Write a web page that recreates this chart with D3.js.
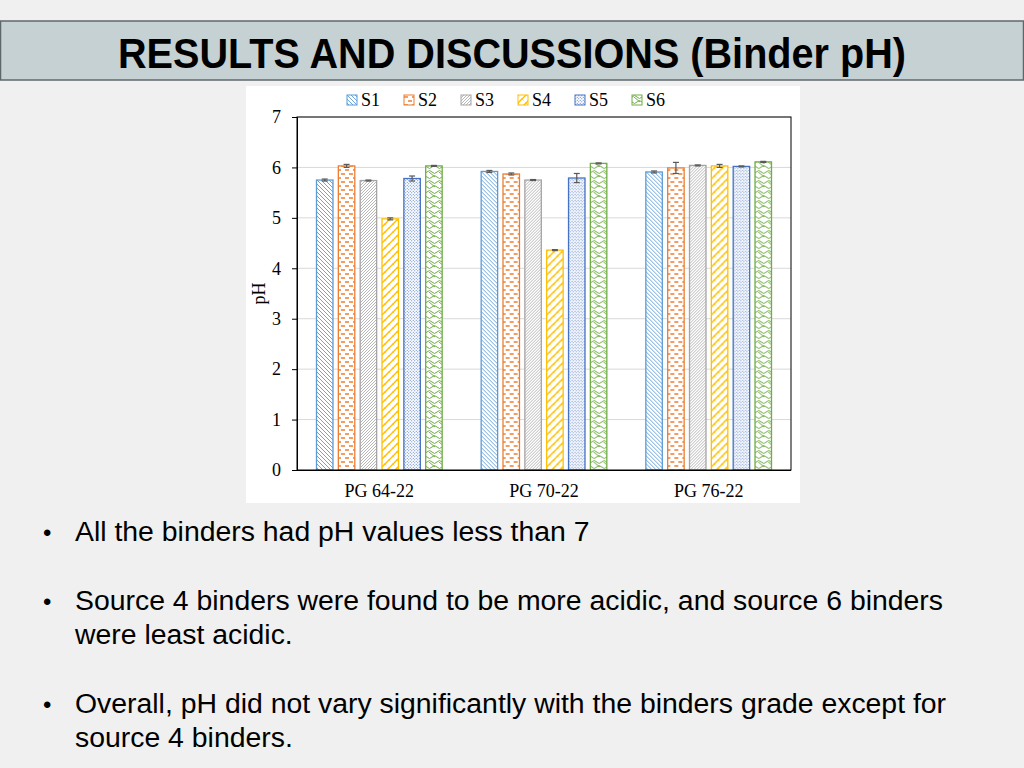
<!DOCTYPE html>
<html>
<head>
<meta charset="utf-8">
<script src="https://cdn.jsdelivr.net/npm/d3@7"></script>
<style>
  html, body { margin: 0; padding: 0; background: #f0f0f0; }
  svg { display: block; }
</style>
</head>
<body>
<svg id="slide" width="1024" height="768"></svg>
<script>
// chart data
const categories = ['PG 64-22', 'PG 70-22', 'PG 76-22'];
const seriesNames = ['S1', 'S2', 'S3', 'S4', 'S5', 'S6'];
const s1 = [5.75, 5.92, 5.91];
const s2 = [6.03, 5.87, 5.99];
const s3 = [5.74, 5.75, 6.04];
const s4 = [4.98, 4.36, 6.03];
const s5 = [5.78, 5.79, 6.02];
const s6 = [6.03, 6.08, 6.11];
const err1 = [0.02, 0.02, 0.02];
const err2 = [0.03, 0.02, 0.11];
const err3 = [0.01, 0.01, 0.01];
const err4 = [0.02, 0.01, 0.03];
const err5 = [0.05, 0.09, 0.01];
const err6 = [0.01, 0.01, 0.01];
const yTicks = [0, 1, 2, 3, 4, 5, 6, 7];
const bullets = [
    ['All the binders had pH values less than 7'],
    ['Source 4 binders were found to be more acidic, and source 6 binders', 'were least acidic.'],
    ['Overall, pH did not vary significantly with the binders grade except for', 'source 4 binders.']
];

const values = [s1, s2, s3, s4, s5, s6];
const errors = [err1, err2, err3, err4, err5, err6];
const colors = ['#5b9bd5', '#ed7d31', '#a5a5a5', '#ffc000', '#4472c4', '#70ad47'];

const svg = d3.select('#slide');
const defs = svg.append('defs');

// hatch patterns, one per series
function makePattern(i) {
    const c = colors[i];
    const id = 'pat' + i;
    let p;
    if (i === 0) {
        p = defs.append('pattern').attr('id', id).attr('patternUnits', 'userSpaceOnUse')
            .attr('width', 4).attr('height', 4);
        p.append('rect').attr('width', 4).attr('height', 4).attr('fill', '#fff');
        p.append('path').attr('d', 'M-1,-1 L5,5 M-1,3 L1,5 M3,-1 L5,1')
            .attr('stroke', c).attr('stroke-width', 0.9);
    } else if (i === 1) {
        p = defs.append('pattern').attr('id', id).attr('patternUnits', 'userSpaceOnUse')
            .attr('width', 8).attr('height', 8);
        p.append('rect').attr('width', 8).attr('height', 8).attr('fill', '#fff');
        p.append('path').attr('d', 'M0,2 H4 M4,6 H8')
            .attr('stroke', c).attr('stroke-width', 1.3);
    } else if (i === 2) {
        p = defs.append('pattern').attr('id', id).attr('patternUnits', 'userSpaceOnUse')
            .attr('width', 3).attr('height', 3);
        p.append('rect').attr('width', 3).attr('height', 3).attr('fill', '#fff');
        p.append('path').attr('d', 'M-1,4 L4,-1 M-1,1 L1,-1 M2,4 L4,2')
            .attr('stroke', c).attr('stroke-width', 0.8);
    } else if (i === 3) {
        p = defs.append('pattern').attr('id', id).attr('patternUnits', 'userSpaceOnUse')
            .attr('width', 8).attr('height', 8);
        p.append('rect').attr('width', 8).attr('height', 8).attr('fill', '#fff');
        p.append('path').attr('d', 'M-1,9 L9,-1 M-1,1 L1,-1 M7,9 L9,7')
            .attr('stroke', c).attr('stroke-width', 1.4);
        p.append('path').attr('d', 'M0,0 L4,4 M4,4 L8,8')
            .attr('stroke', c).attr('stroke-width', 0.7).attr('stroke-dasharray', '2,3');
    } else if (i === 4) {
        p = defs.append('pattern').attr('id', id).attr('patternUnits', 'userSpaceOnUse')
            .attr('width', 3).attr('height', 3);
        p.append('rect').attr('width', 3).attr('height', 3).attr('fill', '#fff');
        p.append('circle').attr('cx', 0.75).attr('cy', 0.75).attr('r', 0.55).attr('fill', c);
        p.append('circle').attr('cx', 2.25).attr('cy', 2.25).attr('r', 0.55).attr('fill', c);
    } else {
        p = defs.append('pattern').attr('id', id).attr('patternUnits', 'userSpaceOnUse')
            .attr('width', 10).attr('height', 10);
        p.append('rect').attr('width', 10).attr('height', 10).attr('fill', '#fff');
        p.append('path').attr('d', 'M0,2 Q2.5,-1 5,2 T10,2 M0,7 Q2.5,10 5,7 T10,7 M2,2 L8,7')
            .attr('fill', 'none').attr('stroke', c).attr('stroke-width', 1);
    }
}
seriesNames.forEach((s, i) => makePattern(i));

// title band
svg.append('rect')
    .attr('x', 0.5).attr('y', 21).attr('width', 1023).attr('height', 59)
    .attr('fill', '#c5d1d3').attr('stroke', '#5d686a').attr('stroke-width', 1.5);
svg.append('text')
    .attr('x', 512).attr('y', 68)
    .attr('text-anchor', 'middle')
    .attr('font-family', '"Liberation Sans Narrow", "Liberation Sans", Arial, sans-serif')
    .attr('font-weight', 'bold')
    .attr('font-size', 43)
    .attr('textLength', 788).attr('lengthAdjust', 'spacingAndGlyphs')
    .attr('fill', '#000')
    .text('RESULTS AND DISCUSSIONS (Binder pH)');

// chart panel
svg.append('rect')
    .attr('x', 246).attr('y', 86).attr('width', 554).attr('height', 417)
    .attr('fill', '#fff');

const plot = { left: 297, right: 791, top: 117, bottom: 470 };
const serif = '"Liberation Serif", "Times New Roman", serif';

const y = d3.scaleLinear().domain([0, 7]).range([plot.bottom, plot.top]);
const x0 = d3.scaleBand().domain(categories).range([plot.left, plot.right]);
const x1 = d3.scaleBand().domain(seriesNames)
    .range([19, x0.bandwidth() - 19]).paddingInner(0.2);

const g = svg.append('g');

// gridlines
g.append('g')
    .selectAll('line')
    .data(yTicks.filter(t => t > 0))
    .join('line')
    .attr('x1', plot.left).attr('x2', plot.right)
    .attr('y1', d => y(d)).attr('y2', d => y(d))
    .attr('stroke', '#d9d9d9').attr('stroke-width', 1);

// bars
const groups = g.append('g')
    .selectAll('g')
    .data(categories)
    .join('g')
    .attr('transform', d => `translate(${x0(d)},0)`);

groups.selectAll('rect')
    .data((c, ci) => seriesNames.map((s, si) => ({ s, si, v: values[si][ci], e: errors[si][ci] })))
    .join('rect')
    .attr('x', d => x1(d.s) + 0.5)
    .attr('y', d => y(d.v))
    .attr('width', x1.bandwidth() - 1)
    .attr('height', d => y(0) - y(d.v))
    .attr('fill', d => `url(#pat${d.si})`)
    .attr('stroke', d => colors[d.si])
    .attr('stroke-width', 1.3);

// error bars
const eb = groups.selectAll('g.err')
    .data((c, ci) => seriesNames.map((s, si) => ({ s, si, v: values[si][ci], e: errors[si][ci] })))
    .join('g')
    .attr('class', 'err')
    .attr('stroke', '#595959').attr('stroke-width', 1.2);
eb.append('line')
    .attr('x1', d => x1(d.s) + x1.bandwidth() / 2)
    .attr('x2', d => x1(d.s) + x1.bandwidth() / 2)
    .attr('y1', d => y(d.v + d.e)).attr('y2', d => y(d.v - d.e));
eb.append('line')
    .attr('x1', d => x1(d.s) + x1.bandwidth() / 2 - 3)
    .attr('x2', d => x1(d.s) + x1.bandwidth() / 2 + 3)
    .attr('y1', d => y(d.v + d.e)).attr('y2', d => y(d.v + d.e));
eb.append('line')
    .attr('x1', d => x1(d.s) + x1.bandwidth() / 2 - 3)
    .attr('x2', d => x1(d.s) + x1.bandwidth() / 2 + 3)
    .attr('y1', d => y(d.v - d.e)).attr('y2', d => y(d.v - d.e));

// plot frame
g.append('rect')
    .attr('x', plot.left).attr('y', plot.top)
    .attr('width', plot.right - plot.left).attr('height', plot.bottom - plot.top)
    .attr('fill', 'none').attr('stroke', '#000').attr('stroke-width', 1);

// y axis
const yAxis = g.append('g')
    .attr('transform', `translate(${plot.left},0)`)
    .call(d3.axisLeft(y).tickValues(yTicks).tickSize(5).tickPadding(11).tickFormat(d3.format('d')));
yAxis.select('.domain').attr('stroke', '#000');
yAxis.selectAll('.tick line').attr('stroke', '#000');
yAxis.selectAll('text')
    .attr('font-family', serif).attr('font-size', 18).attr('fill', '#000');

// x axis
const xAxis = g.append('g')
    .attr('transform', `translate(0,${plot.bottom})`)
    .call(d3.axisBottom(x0).tickSize(0).tickPadding(14));
xAxis.select('.domain').attr('stroke', '#000').attr('d', `M${plot.left - 5},0.5H${plot.right}`);
xAxis.selectAll('text')
    .attr('font-family', serif).attr('font-size', 18).attr('fill', '#000');

// y axis title
svg.append('text')
    .attr('transform', `translate(265,${(plot.top + plot.bottom) / 2}) rotate(-90)`)
    .attr('text-anchor', 'middle')
    .attr('font-family', serif).attr('font-size', 18).attr('fill', '#000')
    .text('pH');

// legend
const legend = svg.append('g')
    .selectAll('g')
    .data(seriesNames)
    .join('g')
    .attr('transform', (d, i) => `translate(${347 + i * 57},95)`);
legend.append('rect')
    .attr('width', 10).attr('height', 10)
    .attr('fill', (d, i) => `url(#pat${i})`)
    .attr('stroke', (d, i) => colors[i]).attr('stroke-width', 1);
legend.append('text')
    .attr('x', 14).attr('y', 11)
    .attr('font-family', serif).attr('font-size', 18).attr('fill', '#000')
    .text(d => d);

// bullet text
const lineTops = [541, 610, 713];
const bulletG = svg.append('g')
    .attr('font-family', '"Liberation Sans", Arial, sans-serif')
    .attr('font-size', 28.4).attr('fill', '#000');
bullets.forEach((lines, bi) => {
    bulletG.append('text')
        .attr('x', 43).attr('y', lineTops[bi])
        .attr('font-size', 24)
        .text('•');
    lines.forEach((ln, li) => {
        bulletG.append('text')
            .attr('x', 75).attr('y', lineTops[bi] + li * 34)
            .text(ln);
    });
});
</script>
</body>
</html>
